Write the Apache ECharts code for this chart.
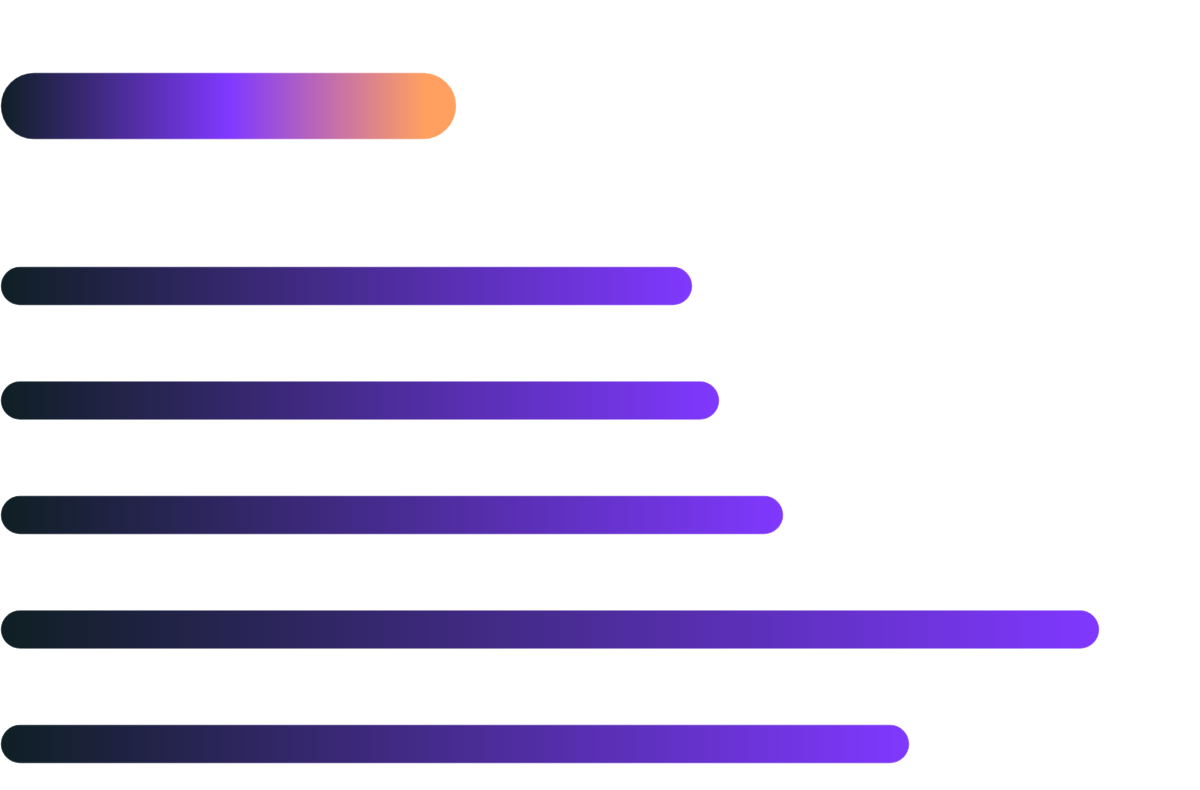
<!DOCTYPE html>
<html>
<head>
<meta charset="utf-8">
<script src="https://cdn.jsdelivr.net/npm/echarts@6/dist/echarts.min.js"></script>
<style>
    html, body { margin: 0; padding: 0; background: #ffffff; }
    #chart { width: 1200px; height: 790px; }
</style>
</head>
<body>
<div id="chart"></div>
<script>
    // 数据
    var topCategories = ['Highlight'];
    var topValues = [45.7];
    var categories = ['A', 'B', 'C', 'D', 'E'];
    var values = [69.3, 72.0, 78.4, 110.0, 91.0];
    var axisMax = 120;

    var chart = echarts.init(document.getElementById('chart'));

    var darkColor = '#0f1f23';
    var purpleColor = '#8038ff';
    var orangeColor = '#ffa060';

    var barGradient = new echarts.graphic.LinearGradient(0, 0, 1, 0, [
        {offset: 0, color: darkColor},
        {offset: 1, color: purpleColor}
    ]);
    var topGradient = new echarts.graphic.LinearGradient(0, 0, 1, 0, [
        {offset: 0, color: darkColor},
        {offset: 0.5, color: purpleColor},
        {offset: 0.93, color: orangeColor},
        {offset: 1, color: orangeColor}
    ]);

    var option = {
        backgroundColor: '#ffffff',
        animation: false,
        grid: [
            {left: 0, right: 0, top: 72, height: 68},
            {left: 0, right: 0, top: 286, height: 458}
        ],
        xAxis: [
            {gridIndex: 0, type: 'value', min: 0, max: axisMax, show: false},
            {gridIndex: 1, type: 'value', min: 0, max: axisMax, show: false}
        ],
        yAxis: [
            {gridIndex: 0, type: 'category', data: topCategories, show: false},
            {gridIndex: 1, type: 'category', data: categories, inverse: true, boundaryGap: false, show: false}
        ],
        series: [
            {
                type: 'bar',
                xAxisIndex: 0,
                yAxisIndex: 0,
                data: topValues,
                barWidth: 68,
                itemStyle: {
                    color: topGradient,
                    borderRadius: 34,
                    borderColor: 'rgba(255,255,255,0.3)',
                    borderWidth: 1.5
                }
            },
            {
                type: 'bar',
                xAxisIndex: 1,
                yAxisIndex: 1,
                data: values,
                barWidth: 40,
                itemStyle: {
                    color: barGradient,
                    borderRadius: 20,
                    borderColor: 'rgba(255,255,255,0.3)',
                    borderWidth: 1.5
                }
            }
        ]
    };
    chart.setOption(option);
</script>
</body>
</html>
